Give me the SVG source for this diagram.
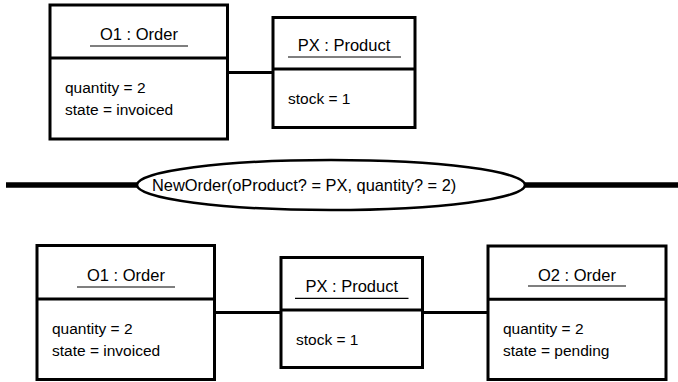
<svg xmlns="http://www.w3.org/2000/svg" width="678" height="382" viewBox="0 0 678 382">
<style>
.box{fill:#fff;stroke:#000;stroke-width:3}
.div{stroke:#000;stroke-width:3}
.ul{stroke:#000;stroke-width:1.2}
.conn{stroke:#000;stroke-width:3;fill:none}
.title{font-family:"Liberation Sans",Arial,sans-serif;font-size:16.5px;text-anchor:middle;fill:#000}
.attr{font-family:"Liberation Sans",Arial,sans-serif;font-size:15.5px;fill:#000}
.ev{font-family:"Liberation Sans",Arial,sans-serif;font-size:16.4px;fill:#000}
</style>
<rect width="678" height="382" fill="#fff"/>
<g id="connectors">
<line class="conn" x1="227" y1="72.5" x2="273" y2="72.5"/>
<line class="conn" x1="214" y1="312.5" x2="281" y2="312.5"/>
<line class="conn" x1="422" y1="312.5" x2="488" y2="312.5"/>
</g>
<g id="o1-top">
<rect class="box" x="50" y="5" width="177.5" height="134"/>
<line class="div" x1="50" y1="58" x2="227.5" y2="58"/>
<text class="title" x="139" y="40">O1 : Order</text>
<line class="ul" x1="90" y1="46" x2="188" y2="46"/>
<text class="attr" x="65" y="93">quantity = 2</text>
<text class="attr" x="65" y="115">state = invoiced</text>
</g>
<g id="px-top">
<rect class="box" x="273" y="17.5" width="142" height="110"/>
<line class="div" x1="273" y1="69" x2="415" y2="69"/>
<text class="title" x="344" y="51">PX : Product</text>
<line class="ul" x1="288" y1="57" x2="401" y2="57"/>
<text class="attr" x="288" y="104">stock = 1</text>
</g>
<g id="event">
<line stroke="#000" stroke-width="5.5" x1="6" y1="185" x2="137" y2="185"/>
<line stroke="#000" stroke-width="5.5" x1="525" y1="185" x2="678" y2="185"/>
<ellipse cx="331" cy="185" rx="194" ry="25" fill="#fff" stroke="#000" stroke-width="2.5"/>
<text class="ev" x="152" y="191">NewOrder(oProduct? = PX, quantity? = 2)</text>
</g>
<g id="o1-bottom">
<rect class="box" x="37" y="245.5" width="177.5" height="134"/>
<line class="div" x1="37" y1="299" x2="214.5" y2="299"/>
<text class="title" x="126" y="280.5">O1 : Order</text>
<line class="ul" x1="77" y1="287" x2="175" y2="287"/>
<text class="attr" x="52" y="333.5">quantity = 2</text>
<text class="attr" x="52" y="355.5">state = invoiced</text>
</g>
<g id="px-bottom">
<rect class="box" x="281" y="257.5" width="141.5" height="110"/>
<line class="div" x1="281" y1="310" x2="422.5" y2="310"/>
<text class="title" x="351.75" y="292">PX : Product</text>
<line class="ul" x1="295" y1="298.3" x2="408.5" y2="298.3"/>
<text class="attr" x="296" y="345">stock = 1</text>
</g>
<g id="o2-bottom">
<rect class="box" x="488" y="246" width="178" height="133.5"/>
<line class="div" x1="488" y1="299.3" x2="666" y2="299.3"/>
<text class="title" x="577" y="280.5">O2 : Order</text>
<line class="ul" x1="528" y1="286" x2="626" y2="286"/>
<text class="attr" x="503" y="333.5">quantity = 2</text>
<text class="attr" x="503" y="355.5">state = pending</text>
</g>
</svg>
